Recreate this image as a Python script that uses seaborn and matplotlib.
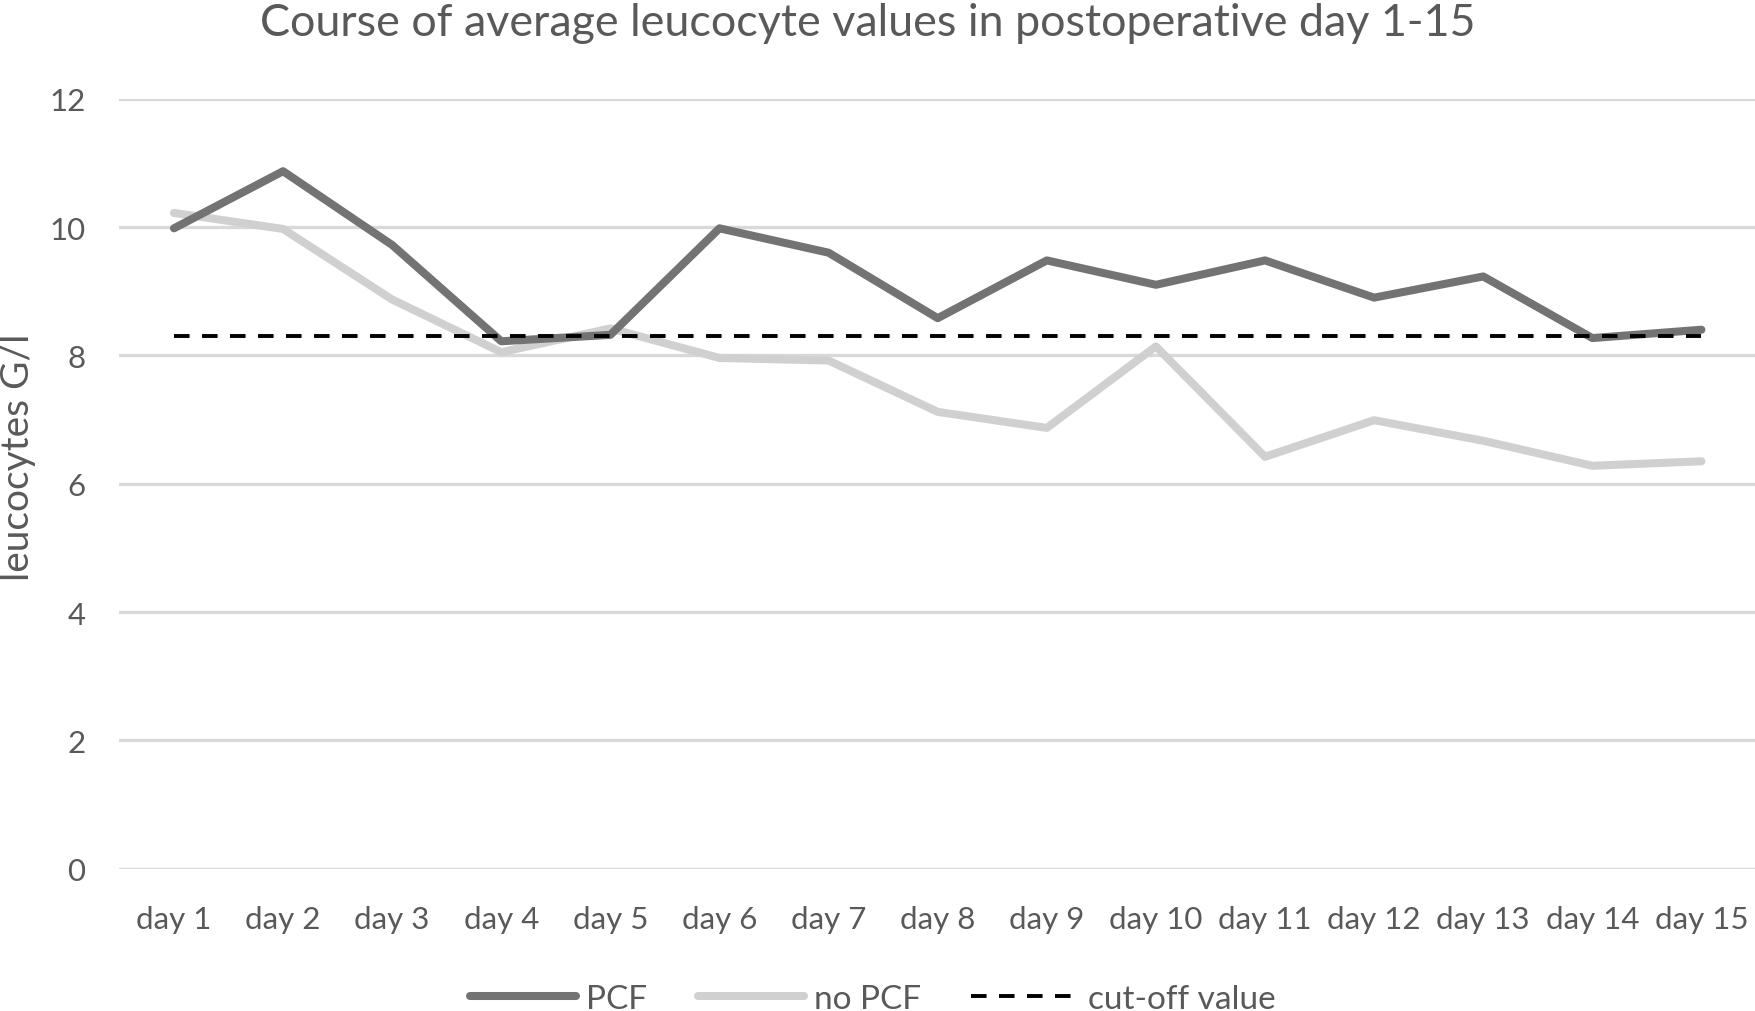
import pandas as pd
import seaborn as sns
import matplotlib.pyplot as plt

days = ["day %d" % i for i in range(1, 16)]
pcf = [9.98, 10.87, 9.72, 8.22, 8.32, 9.98, 9.6, 8.58, 9.48, 9.1, 9.48, 8.9, 9.23, 8.27, 8.4]
no_pcf = [10.22, 9.97, 8.87, 8.05, 8.42, 7.96, 7.92, 7.12, 6.87, 8.14, 6.42, 6.99, 6.67, 6.28, 6.35]
cutoff = [8.3] * 15

sns.set_theme(style="white")
plt.rcParams["font.family"] = ["Lato", "DejaVu Sans"]
txt = "#595959"

df = pd.DataFrame({"day": days, "PCF": pcf, "no PCF": no_pcf, "cut-off value": cutoff})

fig, ax = plt.subplots(figsize=(17.56, 10.12), dpi=100)
fig.subplots_adjust(left=0.068, right=1.0, top=0.9015, bottom=0.1405)

sns.lineplot(data=df, x="day", y="PCF", ax=ax, color="#737373", lw=5.8,
             label="PCF", solid_capstyle="round", zorder=4)
sns.lineplot(data=df, x="day", y="no PCF", ax=ax, color="#d0d0d0", lw=5.8,
             label="no PCF", solid_capstyle="round", zorder=3)
sns.lineplot(data=df, x="day", y="cut-off value", ax=ax, color="black", lw=2.8,
             label="cut-off value", linestyle=(0, (4, 3.2)), zorder=5)

ax.set_ylim(0, 12)
ax.set_yticks(range(0, 13, 2))
ax.set_xlim(-0.5, 14.5)
ax.grid(axis="y", color="#d9d9d9", lw=2.4)
ax.set_axisbelow(True)
for s in ax.spines.values():
    s.set_visible(False)
ax.tick_params(axis="both", length=0, labelsize=22.5, labelcolor=txt)
ax.tick_params(axis="x", pad=26)
ax.tick_params(axis="y", pad=24.5)
ax.set_xlabel("")
ax.set_ylabel("leucocytes G/l", fontsize=28, color=txt)
ax.yaxis.set_label_coords(-0.051, 0.536)
fig.suptitle("Course of average leucocyte values in postoperative day 1-15",
             fontsize=32.3, color=txt, x=0.494, y=0.997)

ax.get_legend().remove()
h, l = ax.get_legend_handles_labels()
fig.legend(h, l, loc="center", bbox_to_anchor=(0.497, 0.012), ncol=3, frameon=False,
           fontsize=24, labelcolor=txt, handlelength=3.2, columnspacing=1.5, handletextpad=0.3)

fig.savefig("out.png", dpi=100)
